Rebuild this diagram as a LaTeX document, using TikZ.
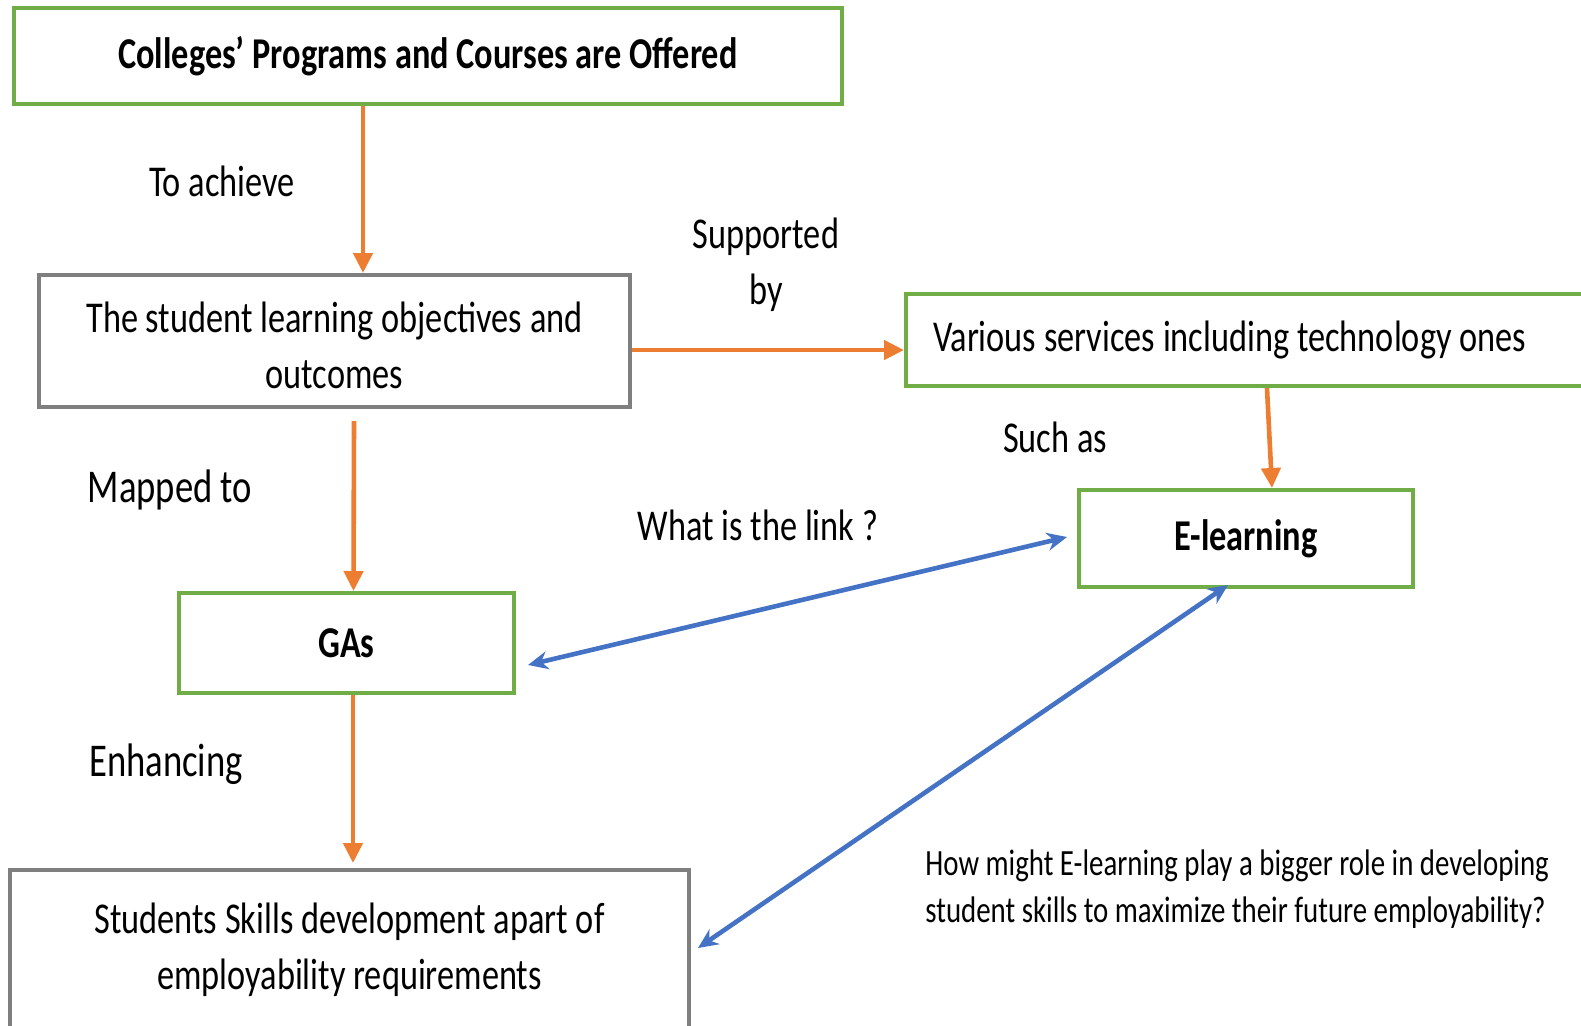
\documentclass[tikz,border=0pt]{standalone}
\usepackage{fontspec}
\setmainfont[FakeStretch=0.78]{Carlito}
\usetikzlibrary{arrows.meta}
\definecolor{boxgreen}{RGB}{112,173,71}
\definecolor{floworange}{RGB}{237,125,49}
\definecolor{linkblue}{RGB}{68,114,196}
\definecolor{boxgray}{RGB}{127,127,127}

\begin{document}
\begin{tikzpicture}[x=0.5pt,y=-0.5pt,
		every node/.style={font=\fontsize{22}{28}\selectfont},
		greenbox/.style={draw=boxgreen,line width=2pt,align=center,inner sep=0pt},
		graybox/.style={draw=boxgray,line width=2pt,align=center,inner sep=0pt},
		flow/.style={draw=floworange,line width=2.3pt,-{Triangle[length=10pt,width=9.5pt]}},
		link/.style={draw=linkblue,line width=2.3pt,{Stealth[length=10pt,width=9pt]}-{Stealth[length=10pt,width=9pt]}},
		biglbl/.style={font=\fontsize{23.5}{28}\selectfont}]
		\clip (0,0) rectangle (1581,1025);
		\node[greenbox,minimum width=414pt,minimum height=48pt] (offered) at (428,56) {\bfseries Colleges’ Programs and Courses are Offered};
		\node[graybox,minimum width=295.5pt,minimum height=66pt] (objectives) at (334.5,341) {\rule{0pt}{20pt}The student learning objectives and\\outcomes};
		\node[greenbox,text width=330pt,align=flush left,inner xsep=13.5pt,minimum height=46pt] (services) at (1263,340) {Various services including technology ones};
		\node[greenbox,minimum width=167.5pt,minimum height=50pt] (gas) at (346.5,643) {\bfseries GAs};
		\node[greenbox,minimum width=167pt,minimum height=48.5pt] (elearn) at (1246,538.5) {\bfseries E-learning};
		\node[graybox,minimum width=339.5pt,minimum height=80pt] (skills) at (349.5,950) {Students Skills development apart of\\employability requirements};
		\draw[flow] ([xshift=14.25pt]objectives.north |- offered.south) -- ([xshift=14.25pt]objectives.north);
		\draw[flow] ([yshift=-4.5pt]objectives.east) -- ([yshift=-4.5pt]objectives.east -| services.west);
		\draw[flow] ([xshift=9.75pt,yshift=-6pt]objectives.south) -- ([xshift=3.5pt]gas.north);
		\draw[flow] ([xshift=2pt]services.south) -- ([xshift=13pt]elearn.north);
		\draw[flow] ([xshift=3.25pt]gas.south) -- ([xshift=1.75pt,yshift=2.5pt]skills.north);
		\draw[link] ([xshift=6pt,yshift=-11pt]gas.east) -- ([xshift=-5pt,yshift=0.75pt]elearn.west);
		\draw[link] ([xshift=3.5pt,yshift=1pt]skills.east) -- ([xshift=-9pt,yshift=2pt]elearn.south);
		\node (achieve) at (222,181) {To achieve};
		\node[align=center] (supported) at (766,265) {Supported\\by};
		\node[biglbl] (mapped) at (170,490) {Mapped to};
		\node (whatlink) at (758,525) {What is the link ?};
		\node (suchas) at (1055,437) {Such as};
		\node[biglbl] (enhancing) at (166,764) {Enhancing};
		\node[anchor=west,align=left,inner sep=0pt,font=\fontsize{18.5}{23.5}\selectfont] (question) at (925,889) {How might E-learning play a bigger role in developing\\student skills to maximize their future employability?};
	\end{tikzpicture}
\end{document}
